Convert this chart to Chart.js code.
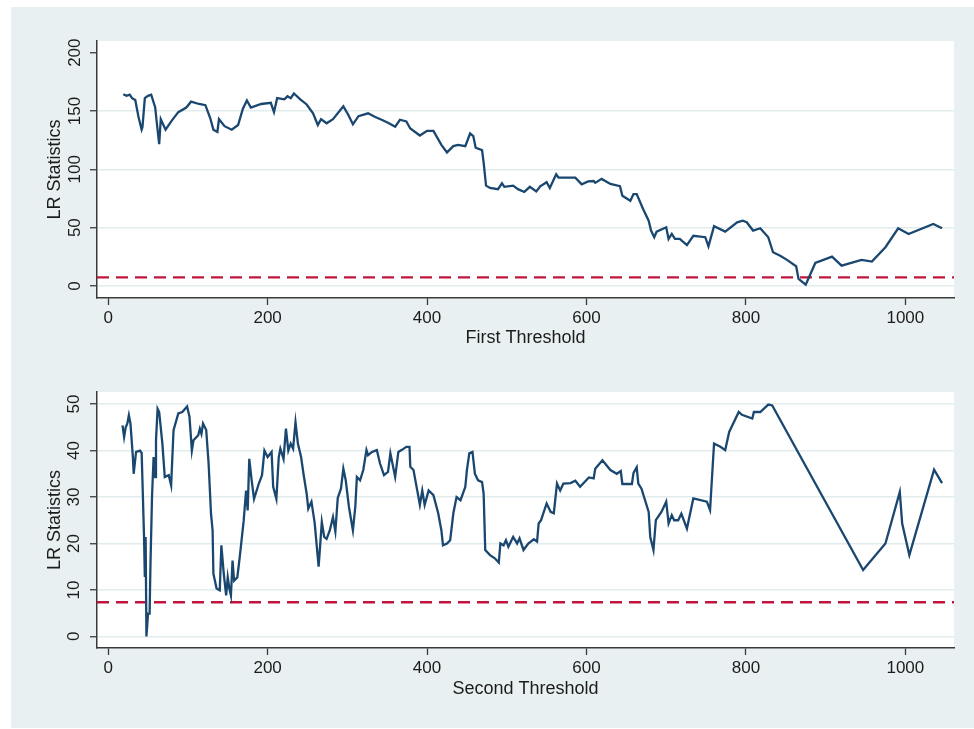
<!DOCTYPE html>
<html>
<head>
<meta charset="utf-8">
<script src="https://cdn.jsdelivr.net/npm/chart.js@4"></script>
<style>
  html, body { margin: 0; padding: 0; background: #ffffff; }
  #page { position: relative; width: 974px; height: 729px; overflow: hidden; }
  #bg { position: absolute; left: 11px; top: 7px; width: 963px; height: 721px; background: #e9f0f2; }
  .panel { position: absolute; left: 0; width: 974px; }
  #topPanel { top: 0; height: 365px; }
  #bottomPanel { top: 351px; height: 378px; }
  canvas { display: block; }
</style>
</head>
<body>
<div id="page">
  <div id="bg"></div>
  <div class="panel" id="topPanel"><canvas id="c1" width="974" height="365"></canvas></div>
  <div class="panel" id="bottomPanel"><canvas id="c2" width="974" height="378"></canvas></div>
</div>
<script>
// Shared x axis
const xMin = -14;
const xMax = 1061;
const xTicks = [0, 200, 400, 600, 800, 1000];

// 5% critical value of the LR test
const criticalValue = 7.35;

// First threshold: candidate values and LR statistic
const firstThreshold = [
  19, 23, 27, 30, 34, 38, 42, 43, 46, 50, 54, 59, 61, 64, 66, 72, 80, 88, 98, 104,
  114, 122, 128, 132, 137, 139, 146, 155, 163, 169, 174, 179, 192, 204, 208, 212, 221, 225, 229, 233,
  241, 249, 257, 263, 267, 274, 282, 288, 295, 301, 307, 314, 326, 335, 343, 351, 360, 366, 374, 379,
  391, 400, 408, 418, 425, 433, 439, 448, 454, 458, 461, 469, 471, 474, 479, 489, 494, 497, 508, 514,
  522, 529, 537, 542, 550, 554, 562, 565, 586, 594, 602, 609, 611, 619, 630, 642, 645, 655, 659, 663,
  671, 678, 681, 685, 688, 700, 703, 707, 711, 717, 726, 734, 749, 753, 760, 774, 789, 796, 801, 809,
  818, 828, 834, 843, 851, 863, 866, 875, 887, 908, 920, 945, 958, 975, 991, 1004, 1035, 1046
];
const firstLR = [
  164.4, 163, 164, 161, 159.5, 145, 134, 136, 161, 163, 164, 153, 140, 121.5, 143, 134, 142, 149, 153, 158,
  156, 155, 144, 134, 132, 143, 137, 134, 138, 152, 159, 153, 156, 157, 149, 161, 160, 162.6, 161, 165,
  160, 155.6, 148, 138, 143, 139.5, 143, 148, 154, 147, 138.6, 145.6, 148, 144.8, 142.5, 140, 136.5, 142.5, 141, 135,
  129, 133, 133, 121, 114.5, 119.9, 121, 119.9, 130.7, 128.5, 118.5, 116.5, 105.7, 86, 84, 83, 88, 85, 86, 83,
  80.6, 85, 81, 85.5, 89, 84, 95.7, 92.9, 92.9, 87.2, 89.6, 90, 88.4, 91.8, 87.5, 85.5, 77.4, 73, 78.8, 78.8,
  66, 56, 47.5, 41.8, 46.6, 50.3, 40.3, 44.6, 40.3, 40.3, 35, 43, 41.8, 34, 51.2, 46.6, 54.6, 56, 54.6, 47.5,
  49.5, 41.8, 28.9, 26, 22.6, 16.9, 6, 1.1, 19.7, 25.2, 17.4, 22.3, 20.9, 33.2, 49.5, 44.6, 53.2, 49.5
];
const firstTicksY = [0, 50, 100, 150, 200];

// Second threshold: candidate values and LR statistic
const secondThreshold = [
  18, 20, 22, 24, 26, 28, 31, 32, 35, 40, 42, 43, 45, 46, 47, 48, 50, 52, 53, 55,
  57, 59, 60, 62, 64, 68, 71, 76, 79, 82, 88, 93, 99, 102, 105, 107, 113, 115, 117, 119,
  123, 126, 129, 131, 132, 136, 140, 142, 145, 148, 150, 152, 154, 156, 158, 162, 165, 170, 173, 175,
  177, 180, 183, 189, 193, 196, 200, 205, 207, 211, 214, 216, 220, 223, 226, 229, 232, 235, 238, 242,
  245, 249, 251, 255, 259, 264, 268, 271, 274, 278, 282, 285, 288, 292, 295, 298, 302, 307, 310, 312,
  316, 320, 324, 326, 331, 337, 341, 346, 351, 354, 360, 364, 368, 374, 378, 379, 383, 391, 394, 397,
  402, 408, 414, 418, 420, 425, 429, 433, 437, 442, 448, 450, 453, 457, 460, 464, 469, 471, 473, 479,
  485, 490, 492, 496, 499, 502, 508, 513, 516, 521, 527, 534, 538, 540, 543, 550, 555, 559, 563, 567,
  571, 580, 586, 592, 603, 609, 611, 620, 630, 638, 643, 645, 657, 659, 663, 665, 669, 678, 680, 684,
  687, 694, 700, 703, 707, 710, 715, 719, 726, 734, 751, 755, 760, 768, 774, 779, 791, 795, 808, 810,
  818, 828, 833, 947, 975, 993, 996, 1005, 1036, 1046
];
const secondLR = [
  45.4, 42.9, 45, 45.8, 47.6, 45.8, 38.6, 35, 39.7, 40, 39.5, 33.6, 21.4, 12.8, 21.4, 0, 4.9, 4.9, 15, 30,
  38.6, 34.3, 42.2, 49, 48.3, 41.5, 34.3, 34.7, 32.5, 44.4, 48, 48.3, 49.5, 47.3, 40, 42.2, 43.3, 44.7, 43.6, 45.8,
  44.4, 37.2, 26.4, 22.8, 13.5, 10.3, 9.9, 19.6, 13.5, 8.8, 12.7, 10.3, 8.8, 16.3, 12, 12.7, 17, 24.9, 31.4, 27.1,
  38.2, 33.6, 29.6, 32.9, 34.7, 40, 38.6, 39.7, 32.2, 29.6, 38.6, 40.4, 38.2, 44.7, 40, 41.5, 40.4, 46.1, 41.5, 38.6,
  35, 30.7, 27.5, 29, 24.5, 15, 24.6, 21.4, 21, 22.8, 25.7, 22.6, 29.8, 31.8, 36.1, 33.6, 27.9, 22.8, 27.9, 34.3,
  33.6, 35.8, 40.1, 39, 39.7, 40.1, 37.2, 34.7, 35.4, 39.4, 34.3, 39.7, 40.1, 40.8, 40.8, 36.5, 35.8, 28.3, 31.4, 28.3,
  31.4, 30.4, 26.5, 22.8, 19.6, 20, 20.7, 26.5, 30, 29.3, 32.2, 35.8, 39.4, 39.7, 35, 33.6, 33.2, 30.7, 18.6, 17.5,
  16.8, 15.9, 20, 19.6, 20.7, 19.3, 21.4, 20, 21.1, 18.6, 20, 20.9, 20.4, 24.3, 25, 28.6, 26.8, 26.5, 32.9, 31.4,
  32.9, 33, 33.5, 32.2, 34.2, 34, 36.1, 37.9, 35.8, 35, 35.6, 32.8, 32.8, 35.2, 36.4, 32.9, 31.8, 26.8, 21.4, 18.6,
  25, 26.8, 29, 24.3, 26.1, 25, 25, 26.4, 23.2, 29.7, 29, 27.2, 41.5, 40.8, 40.1, 44, 48.3, 47.7, 46.9, 48.3,
  48.3, 49.9, 49.7, 14.3, 20, 31.1, 24.3, 17.5, 35.9, 33
];
const secondTicksY = [0, 10, 20, 30, 40, 50];

const FONT = '"Liberation Sans", Arial, Helvetica, sans-serif';
const TEXT = '#1c1c1c';
const AXIS = '#3a3a3a';
const GRID = '#e2ebee';
const NAVY = '#1a476f';
const RED = '#c0163d';

// White plot region behind the data
const plotRegion = {
  id: 'plotRegion',
  beforeDraw(chart) {
    const a = chart.chartArea;
    const ctx = chart.ctx;
    ctx.save();
    ctx.fillStyle = '#ffffff';
    ctx.fillRect(a.left, a.top, a.right - a.left, a.bottom - a.top);
    ctx.restore();
  }
};

function panel(canvasId, xs, ys, yTicks, yMin, yMax, opts) {
  const series = xs.map((x, i) => ({ x: x, y: ys[i] }));
  const crit = [{ x: xMin, y: criticalValue }, { x: xMax, y: criticalValue }];
  return new Chart(document.getElementById(canvasId), {
    type: 'line',
    data: {
      datasets: [
        { data: series, borderColor: NAVY, borderWidth: 2.3, pointRadius: 0, tension: 0, order: 0 },
        { data: crit, borderColor: RED, borderWidth: 2.3, borderDash: [12, 7], pointRadius: 0, order: 1 }
      ]
    },
    options: {
      responsive: false,
      animation: false,
      devicePixelRatio: 1,
      layout: { padding: { top: 41, right: 20, left: 0, bottom: 0 } },
      plugins: { legend: { display: false }, tooltip: { enabled: false } },
      scales: {
        x: {
          type: 'linear',
          min: xMin,
          max: xMax,
          afterBuildTicks: s => { s.ticks = xTicks.map(v => ({ value: v })); },
          afterFit: s => { s.height = opts.xAxisHeight; },
          border: { color: AXIS, width: 1.5 },
          grid: { drawOnChartArea: false, tickLength: 7, tickColor: AXIS, tickWidth: 1.3 },
          ticks: {
            autoSkip: false, maxRotation: 0, padding: 3,
            color: TEXT, font: { family: FONT, size: 17 },
            callback: v => String(v)
          },
          title: {
            display: true, text: opts.xTitle, color: TEXT,
            font: { family: FONT, size: 18 },
            padding: { top: 0, bottom: opts.xTitlePad }
          }
        },
        y: {
          type: 'linear',
          min: yMin,
          max: yMax,
          afterBuildTicks: s => { s.ticks = yTicks.map(v => ({ value: v })); },
          afterFit: s => { s.width = 97; },
          border: { color: AXIS, width: 1.5 },
          grid: {
            color: ctx => (ctx.tick && opts.noGrid.includes(ctx.tick.value)) ? 'rgba(0,0,0,0)' : GRID,
            lineWidth: 1.5, tickLength: 7, tickColor: AXIS, tickWidth: 1.3
          },
          ticks: {
            autoSkip: false, minRotation: 90, maxRotation: 90, crossAlign: 'center',
            padding: opts.yTickPad, color: TEXT, font: { family: FONT, size: 17 },
            callback: v => String(v)
          },
          title: {
            display: true, text: 'LR Statistics', color: TEXT,
            font: { family: FONT, size: 18 },
            padding: { top: 44, bottom: 0 }
          }
        }
      }
    },
    plugins: [plotRegion]
  });
}

panel('c1', firstThreshold, firstLR, firstTicksY, -10.3, 210,
  { xTitle: 'First Threshold', xAxisHeight: 67, xTitlePad: 16, yTickPad: 1, noGrid: [200] });
panel('c2', secondThreshold, secondLR, secondTicksY, -2.5, 52.6,
  { xTitle: 'Second Threshold', xAxisHeight: 81, xTitlePad: 29, yTickPad: 6, noGrid: [] });
</script>
</body>
</html>
